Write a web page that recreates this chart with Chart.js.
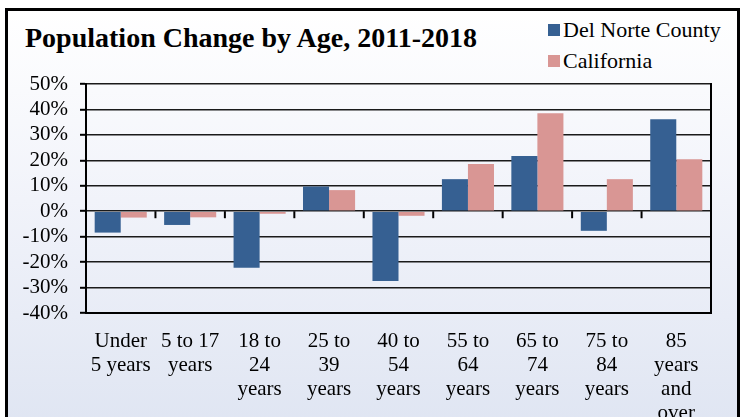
<!DOCTYPE html>
<html>
<head>
<meta charset="utf-8">
<script src="https://cdn.jsdelivr.net/npm/chart.js@4"></script>
<style>
  html, body { margin: 0; padding: 0; width: 743px; height: 417px; overflow: hidden; background: #fff; }
  .frame {
    position: absolute; left: 5px; top: 8px; width: 729px; height: 420px;
    border: 3px solid #000;
    background: linear-gradient(#ffffff 0%, #f1f3fa 45%, #dfe5f2 100%);
  }
  .title {
    position: absolute; left: 25px; top: 22px;
    font: bold 28px "Liberation Serif", "Times New Roman", serif; color: #000;
  }
  .legend { position: absolute; left: 548px; top: 16px; font: 22px "Liberation Serif", serif; color: #000; }
  .legend div { height: 31px; line-height: 28px; white-space: nowrap; }
  .legend span { display: inline-block; width: 12px; height: 12px; margin-right: 3px; vertical-align: 1px; }
  canvas { position: absolute; left: 0; top: 0; }
</style>
</head>
<body>
<div class="frame"></div>
<div class="title">Population Change by Age, 2011-2018</div>
<div class="legend" id="legend"></div>
<canvas id="chart" width="743" height="417"></canvas>
<script>
// 연령대별 인구 변화율(%) — 그림에서 눈으로 읽은 값
const AGE_LABELS = [
  ["Under", "5 years"], ["5 to 17", "years"], ["18 to", "24", "years"],
  ["25 to", "39", "years"], ["40 to", "54", "years"], ["55 to", "64", "years"],
  ["65 to", "74", "years"], ["75 to", "84", "years"], ["85", "years", "and", "over"],
];
const DEL_NORTE = [-8.4, -5.4, -22.2, 9.7, -27.4, 12.6, 21.7, -7.7, 36.1];
const CALIFORNIA = [-2.5, -2.4, -1.0, 8.3, -1.8, 18.6, 38.5, 12.6, 20.4];
const SERIES_NAMES = ["Del Norte County", "California"];
const SERIES_COLORS = ["#366092", "#d99694"];

const FONT = "'Liberation Serif', serif";

// 0% 선 위에 카테고리 경계마다 짧은 눈금
const zeroTicks = {
  id: "zeroTicks",
  afterDatasetsDraw(chart) {
    const { ctx, scales: { x, y } } = chart;
    const y0 = y.getPixelForValue(0);
    ctx.save();
    ctx.strokeStyle = "#000";
    ctx.lineWidth = 2;
    for (let i = 0; i < AGE_LABELS.length - 1; i++) {
      const px = (x.getPixelForValue(i) + x.getPixelForValue(i + 1)) / 2;
      ctx.beginPath();
      ctx.moveTo(px, y0);
      ctx.lineTo(px, y0 + 7);
      ctx.stroke();
    }
    ctx.restore();
  },
};

const chart = new Chart(document.getElementById("chart"), {
  type: "bar",
  data: {
    labels: AGE_LABELS,
    datasets: [
      { label: SERIES_NAMES[0], data: DEL_NORTE, backgroundColor: SERIES_COLORS[0] },
      { label: SERIES_NAMES[1], data: CALIFORNIA, backgroundColor: SERIES_COLORS[1] },
    ],
  },
  options: {
    responsive: false,
    animation: false,
    layout: { padding: { top: 84, right: 32, left: 0, bottom: 0 } },
    datasets: { bar: { categoryPercentage: 0.75, barPercentage: 1 } },
    plugins: { legend: { display: false }, tooltip: { enabled: false } },
    scales: {
      x: {
        grid: { display: false },
        border: { color: "#000", width: 2 },
        ticks: { font: { family: FONT, size: 21, lineHeight: 1.14 }, color: "#000", padding: 9, maxRotation: 0, autoSkip: false },
        afterFit: (s) => { s.height = 104; },
      },
      y: {
        min: -40, max: 50,
        ticks: { stepSize: 10, autoSkip: false, callback: (v) => v + "%", font: { family: FONT, size: 21 }, color: "#000", padding: 12 },
        grid: { color: "#1a1a1a", lineWidth: 1.6, tickLength: 6, tickColor: "#000", tickWidth: 2 },
        border: { color: "#000", width: 2 },
        afterFit: (s) => { s.width = 86; },
      },
      y2: {
        position: "right",
        grid: { display: false },
        ticks: { display: false },
        border: { color: "#000", width: 2 },
        afterFit: (s) => { s.width = 0; },
      },
    },
  },
  plugins: [zeroTicks],
});

document.getElementById("legend").innerHTML = chart.data.datasets
  .map((d) => `<div><span style="background:${d.backgroundColor}"></span>${d.label}</div>`)
  .join("");
</script>
</body>
</html>
